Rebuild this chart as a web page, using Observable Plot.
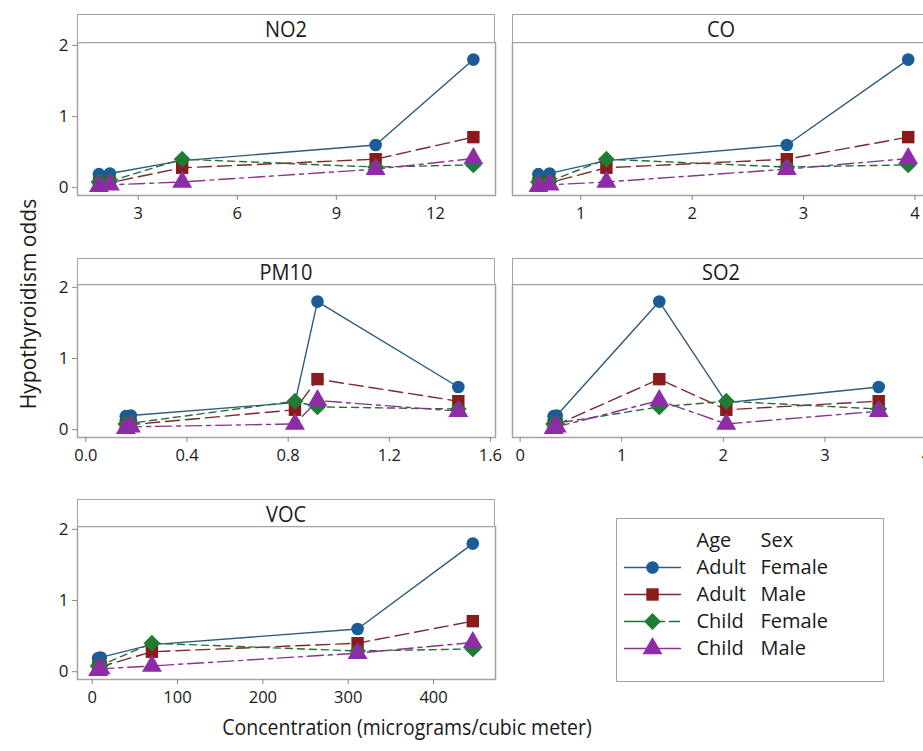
<!DOCTYPE html>
<html>
<head>
<meta charset="utf-8">
<script src="https://cdn.jsdelivr.net/npm/d3@7"></script>
<script src="https://cdn.jsdelivr.net/npm/@observablehq/plot@0.6"></script>
<style>
  html, body { margin: 0; padding: 0; background: #fff; overflow: hidden; }
  #root { position: relative; width: 923px; height: 751px; overflow: hidden; font-family: 'Open Sans', sans-serif; color: #1a1a1a; }
  .abs { position: absolute; }
  .strip { position: absolute; box-sizing: border-box; border: 1.5px solid #a3a3a3; background: #fff;
           display: flex; align-items: center; justify-content: center; font-size: 20px; color: #1a1a1a; }
  .strip span { display: inline-block; transform: scaleY(1.12); }
  .legend { position: absolute; box-sizing: border-box; border: 1.5px solid #a3a3a3; background: #fff; }
</style>
</head>
<body>
<div id="root"></div>
<script>
// ---- data ----
const groups = ["Adult Female", "Adult Male", "Child Female", "Child Male"];
const legendAge = ["Adult", "Adult", "Child", "Child"];
const legendSex = ["Female", "Male", "Female", "Male"];

// odds per region (R1..R5), same regions in every pollutant panel
const oddsAdultFemale = [0.19, 0.20, 0.38, 0.60, 1.80];
const oddsAdultMale   = [0.06, 0.07, 0.28, 0.40, 0.71];
const oddsChildFemale = [0.08, 0.09, 0.40, 0.29, 0.32];
const oddsChildMale   = [0.02, 0.04, 0.08, 0.26, 0.41];

// concentration of each pollutant in regions R1..R5
const pollutants = ["NO2", "CO", "PM10", "SO2", "VOC"];
const concNO2  = [1.81, 2.14, 4.33, 10.19, 13.15];
const concCO   = [0.62, 0.72, 1.23, 2.85, 3.94];
const concPM10 = [0.158, 0.178, 0.827, 1.473, 0.916];
const concSO2  = [0.33, 0.36, 2.03, 3.53, 1.37];
const concVOC  = [7, 10, 70, 311, 446];

const ticksNO2  = [3, 6, 9, 12];
const ticksCO   = [1, 2, 3, 4];
const ticksPM10 = [0.0, 0.4, 0.8, 1.2, 1.6];
const ticksSO2  = [0, 1, 2, 3, 4];
const ticksVOC  = [0, 100, 200, 300, 400];
const ticksOdds = [0, 1, 2];

// ---- styling / layout ----
const odds = [oddsAdultFemale, oddsAdultMale, oddsChildFemale, oddsChildMale];
const fills = ["#1b5b97", "#8b1a1a", "#1f7d33", "#8e2ba6"];
const lineColors = ["#2c5b7c", "#7b2a2a", "#2a6b3a", "#86358f"];
const dashes = [null, "14,6", "7,5", "16,5,4,5"];
const symbols = ["circle", "square", "diamond2", "triangle"];
const symR = [6.3, 7, 7.6, 7.4];

const root = document.getElementById("root");
const plotW = 418, plotH = 153;
const colLeft = [77, 512];
const rowStripTop = [14, 258, 499];
const rowPlotTop = [42, 284, 526];
const yDomain = [-0.11, 2.04];

const panels = [
  {name: "NO2",  conc: concNO2,  ticks: ticksNO2,  domain: [1.16, 13.82], fmt: d3.format("d"),   col: 0, row: 0},
  {name: "CO",   conc: concCO,   ticks: ticksCO,   domain: [0.387, 4.14], fmt: d3.format("d"),   col: 1, row: 0},
  {name: "PM10", conc: concPM10, ticks: ticksPM10, domain: [-0.033, 1.62], fmt: d3.format(".1f"), col: 0, row: 1},
  {name: "SO2",  conc: concSO2,  ticks: ticksSO2,  domain: [-0.075, 4.04], fmt: d3.format("d"),  col: 1, row: 1},
  {name: "VOC",  conc: concVOC,  ticks: ticksVOC,  domain: [-17.2, 472.6], fmt: d3.format("d"),  col: 0, row: 2}
];

for (const p of panels) {
  const rows = [];
  groups.forEach((g, gi) => p.conc.forEach((c, ri) => rows.push({group: g, gi, x: c, y: odds[gi][ri]})));
  rows.sort((a, b) => a.x - b.x);
  const showY = p.col === 0;
  const ml = showY ? 77 : 10;
  const mr = 12;
  const marks = [
    Plot.frame({stroke: "#a3a3a3", strokeWidth: 1.5}),
    Plot.axisX(p.ticks, {tickSize: 5, tickPadding: 7, tickFormat: p.fmt, stroke: "#8a8a8a", fill: "#1a1a1a", fontSize: 16.5, label: null})
  ];
  if (showY) marks.push(Plot.axisY(ticksOdds, {tickSize: 5, tickPadding: 4, tickFormat: d3.format("d"), stroke: "#8a8a8a", fill: "#1a1a1a", fontSize: 17, label: null}));
  groups.forEach((g, gi) => {
    marks.push(Plot.line(rows.filter(d => d.gi === gi), {x: "x", y: "y", stroke: lineColors[gi], strokeWidth: 1.4, strokeDasharray: dashes[gi]}));
  });
  groups.forEach((g, gi) => {
    marks.push(Plot.dot(rows.filter(d => d.gi === gi), {x: "x", y: "y", symbol: () => symbols[gi], fill: fills[gi], r: symR[gi]}));
  });
  const svg = Plot.plot({
    width: ml + plotW + mr, height: plotH + 40,
    marginLeft: ml, marginRight: mr, marginTop: 0, marginBottom: 40,
    x: {domain: p.domain},
    y: {domain: yDomain, axis: showY ? undefined : null},
    symbol: {type: "identity"},
    style: {fontFamily: "'Open Sans', sans-serif", fontSize: "17px", background: "transparent", overflow: "visible"},
    marks
  });
  svg.style.position = "absolute";
  svg.style.left = (colLeft[p.col] - ml) + "px";
  svg.style.top = rowPlotTop[p.row] + "px";
  root.appendChild(svg);

  const strip = document.createElement("div");
  strip.className = "strip";
  strip.style.left = colLeft[p.col] + "px";
  strip.style.top = rowStripTop[p.row] + "px";
  strip.style.width = plotW + "px";
  strip.style.height = (rowPlotTop[p.row] - rowStripTop[p.row] + 1) + "px";
  const sp = document.createElement("span");
  sp.textContent = p.name;
  strip.appendChild(sp);
  root.appendChild(strip);
}

// ---- legend ----
const leg = document.createElement("div");
leg.className = "legend";
leg.style.left = "616px"; leg.style.top = "518px"; leg.style.width = "268px"; leg.style.height = "164px";
root.appendChild(leg);
const legKeys = ["hdr", ...groups];
const legLines = [];
groups.forEach((g, gi) => ["a", "b", "c"].forEach(k => legLines.push({g, gi, k})));
const legMarks = [];
groups.forEach((g, gi) => legMarks.push(Plot.line(legLines.filter(d => d.gi === gi), {x: "k", y: "g", stroke: lineColors[gi], strokeWidth: 1.4, strokeDasharray: gi === 2 ? "40,5,10" : null})));
groups.forEach((g, gi) => legMarks.push(Plot.dot([g], {x: () => "b", y: d => d, symbol: () => symbols[gi], fill: fills[gi], r: symR[gi]})));
const legFont = 20;
legMarks.push(Plot.text(["hdr"], {x: () => "c", y: d => d, text: () => "Age", dx: 16, textAnchor: "start", fontSize: legFont, fill: "#1a1a1a"}));
legMarks.push(Plot.text(["hdr"], {x: () => "c", y: d => d, text: () => "Sex", dx: 80, textAnchor: "start", fontSize: legFont, fill: "#1a1a1a"}));
legMarks.push(Plot.text(groups, {x: () => "c", y: d => d, text: (d, i) => legendAge[i], dx: 16, textAnchor: "start", fontSize: legFont, fill: "#1a1a1a"}));
legMarks.push(Plot.text(groups, {x: () => "c", y: d => d, text: (d, i) => legendSex[i], dx: 80, textAnchor: "start", fontSize: legFont, fill: "#1a1a1a"}));
const legSvg = Plot.plot({
  width: 265, height: 161, margin: 0,
  x: {type: "point", domain: ["a", "b", "c"], range: [6, 63], padding: 0, axis: null},
  y: {type: "point", domain: legKeys, range: [20, 130], padding: 0, axis: null},
  symbol: {type: "identity"},
  style: {fontFamily: "'Open Sans', sans-serif", background: "transparent", overflow: "visible"},
  marks: legMarks
});
legSvg.style.position = "absolute"; legSvg.style.left = "0px"; legSvg.style.top = "0px";
leg.appendChild(legSvg);

// ---- axis titles ----
const yl = document.createElement("div");
yl.className = "abs";
yl.textContent = "Hypothyroidism odds";
Object.assign(yl.style, {left: "28px", top: "304px", fontSize: "21px", whiteSpace: "nowrap", lineHeight: "1",
  transform: "translate(-50%, -50%) rotate(-90deg) scaleY(1.08)"});
root.appendChild(yl);

const xl = document.createElement("div");
xl.className = "abs";
xl.textContent = "Concentration (micrograms/cubic meter)";
Object.assign(xl.style, {left: "407px", top: "727px", fontSize: "19.5px", whiteSpace: "nowrap", lineHeight: "1",
  transform: "translate(-50%, -50%) scaleY(1.1)"});
root.appendChild(xl);
</script>
</body>
</html>
